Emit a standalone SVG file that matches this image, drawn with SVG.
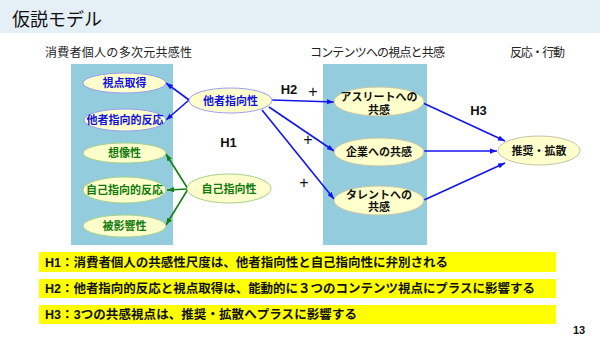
<svg xmlns="http://www.w3.org/2000/svg" width="600" height="338" viewBox="0 0 600 338">
<style>
text{font-family:"Liberation Sans","Noto Sans CJK JP",sans-serif}
.hd{font-size:12px;fill:#222}
.nb{font-size:11px;font-weight:bold;fill:#1010E0;text-anchor:middle}
.ng{font-size:11px;font-weight:bold;fill:#0E7A0E;text-anchor:middle}
.nk{font-size:11px;font-weight:bold;fill:#111;text-anchor:middle}
.lb{font-size:13px;font-weight:bold;fill:#111;text-anchor:middle}
.pl{font-size:16px;fill:#111;text-anchor:middle}
.hy{font-size:12.5px;font-weight:bold;fill:#111}
.eb{fill:#FFFFCC;stroke:#9C9CF0;stroke-width:1}
.eg{fill:#FFFFCC;stroke:#A6D08A;stroke-width:1}
.ek{fill:#FFFFCC;stroke:#C4C4A8;stroke-width:1}
.panel{fill:#93CDDD}
.cb{stroke:#1414F0;stroke-width:1.6;fill:none;marker-end:url(#ab)}
.cg{stroke:#137E13;stroke-width:1.6;fill:none;marker-end:url(#ag)}
.bar{fill:#FFFF00}
</style>
<defs>
<marker id="ab" viewBox="0 0 8 6" refX="8" refY="3" markerWidth="7" markerHeight="5.5" markerUnits="userSpaceOnUse" orient="auto"><path d="M0,0 L8,3 L0,6 z" fill="#1414F0"/></marker>
<marker id="ag" viewBox="0 0 8 6" refX="8" refY="3" markerWidth="7" markerHeight="5.5" markerUnits="userSpaceOnUse" orient="auto"><path d="M0,0 L8,3 L0,6 z" fill="#137E13"/></marker>
</defs>
<rect x="0" y="0" width="600" height="33" fill="#E5F0F6"/>
<text x="12" y="26" font-size="18" fill="#111">仮説モデル</text>
<text class="hd" x="45" y="57" textLength="147">消費者個人の多次元共感性</text>
<text class="hd" x="310" y="57" textLength="135">コンテンツへの視点と共感</text>
<text class="hd" x="510" y="57" textLength="55">反応・行動</text>
<rect class="panel" x="71" y="64" width="102" height="181"/>
<rect class="panel" x="323" y="64" width="104" height="181"/>
<g id="connectors">
<line class="cb" x1="189" y1="100" x2="166" y2="83"/>
<line class="cb" x1="189" y1="100" x2="166" y2="120"/>
<line class="cg" x1="188" y1="189" x2="166" y2="154"/>
<line class="cg" x1="188" y1="189" x2="167" y2="190"/>
<line class="cg" x1="188" y1="189" x2="166" y2="225"/>
<line class="cb" x1="272" y1="100" x2="334" y2="102"/>
<line class="cb" x1="269" y1="107" x2="334" y2="151"/>
<line class="cb" x1="262" y1="110" x2="334" y2="199"/>
<line class="cb" x1="423" y1="103" x2="505" y2="141"/>
<line class="cb" x1="424" y1="151" x2="497" y2="151"/>
<line class="cb" x1="424" y1="200" x2="505" y2="163"/>
</g>
<g id="n-shiten"><ellipse class="eb" cx="124.5" cy="83" rx="41.5" ry="10"/><text class="nb" x="124.5" y="87.2">視点取得</text></g>
<g id="n-tashahannou"><ellipse class="eb" cx="125" cy="120" rx="41" ry="11"/><text class="nb" x="125" y="124.2">他者指向的反応</text></g>
<g id="n-souzou"><ellipse class="eg" cx="124.5" cy="153" rx="41.5" ry="10"/><text class="ng" x="124.5" y="157.2">想像性</text></g>
<g id="n-jikohannou"><ellipse class="eg" cx="124.5" cy="190" rx="41.5" ry="13"/><text class="ng" x="124.5" y="194.2">自己指向的反応</text></g>
<g id="n-hieikyou"><ellipse class="eg" cx="124.5" cy="226" rx="41.5" ry="11"/><text class="ng" x="124.5" y="230.2">被影響性</text></g>
<g id="n-tasha"><ellipse class="eb" cx="230.5" cy="100.5" rx="41.5" ry="12.5"/><text class="nb" x="230.5" y="105">他者指向性</text></g>
<g id="n-jiko"><ellipse class="eg" cx="229" cy="188.5" rx="42" ry="14.5"/><text class="ng" x="229" y="193">自己指向性</text></g>
<g id="n-athlete"><ellipse class="ek" cx="379" cy="101.5" rx="45" ry="14.5"/><text class="nk" x="379" y="100.5">アスリートへの</text><text class="nk" x="379" y="114">共感</text></g>
<g id="n-kigyou"><ellipse class="ek" cx="379" cy="152" rx="45" ry="14"/><text class="nk" x="379" y="156.2">企業への共感</text></g>
<g id="n-talent"><ellipse class="ek" cx="379" cy="200.5" rx="45" ry="14.5"/><text class="nk" x="379" y="199">タレントへの</text><text class="nk" x="379" y="211">共感</text></g>
<g id="n-suishou"><ellipse class="ek" cx="539" cy="150.5" rx="41" ry="14.5"/><text class="nk" x="539" y="154.7">推奨・拡散</text></g>
<text class="lb" x="228.5" y="147">H1</text>
<text class="lb" x="289" y="94">H2</text>
<text class="pl" x="313" y="96.5">+</text>
<text class="pl" x="308" y="144.5">+</text>
<text class="pl" x="304" y="187.5">+</text>
<text class="lb" x="478.5" y="115">H3</text>
<rect class="bar" x="39" y="252" width="517" height="20"/>
<rect class="bar" x="39" y="279" width="517" height="19"/>
<rect class="bar" x="39" y="305" width="517" height="19"/>
<text class="hy" x="45" y="266.5" textLength="403">H1：消費者個人の共感性尺度は、他者指向性と自己指向性に弁別される</text>
<text class="hy" x="45" y="293" textLength="490">H2：他者指向的反応と視点取得は、能動的に３つのコンテンツ視点にプラスに影響する</text>
<text class="hy" x="45" y="319" textLength="312">H3：3つの共感視点は、推奨・拡散へプラスに影響する</text>
<text x="573" y="334" font-size="11" font-weight="bold" fill="#111">13</text>
</svg>
